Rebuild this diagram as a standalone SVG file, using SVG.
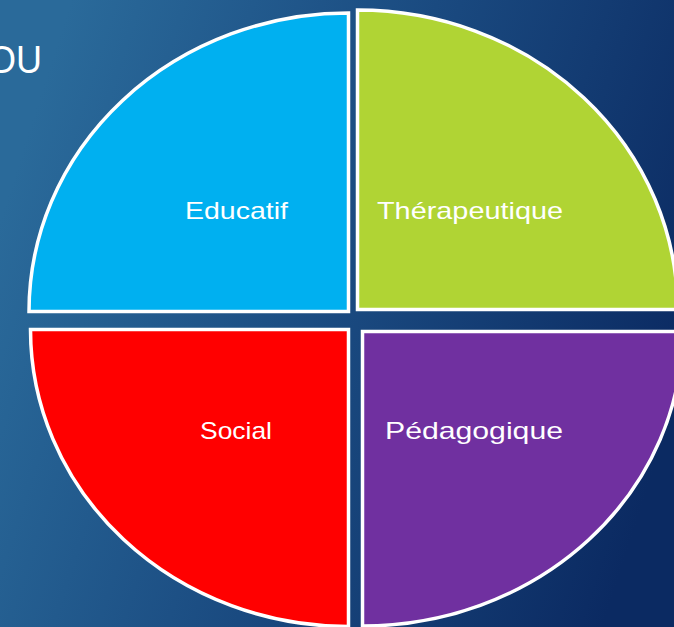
<svg xmlns="http://www.w3.org/2000/svg" width="674" height="627" viewBox="0 0 674 627">
<defs>
<linearGradient id="bg" x1="0" y1="0.35" x2="1" y2="0.65">
<stop offset="0" stop-color="#2a6a9a"/>
<stop offset="0.5" stop-color="#1a4a80"/>
<stop offset="1" stop-color="#0b2a62"/>
</linearGradient>
</defs>
<style>
.q{stroke:#ffffff;stroke-width:3.5;stroke-linejoin:miter}
.t{fill:#ffffff;font-family:"Liberation Sans","DejaVu Sans",sans-serif;font-size:24px}
</style>
<rect x="0" y="0" width="674" height="627" fill="url(#bg)"/>
<text x="-12" y="72.5" fill="#ffffff" font-family="Liberation Sans, sans-serif" font-size="38" textLength="54" lengthAdjust="spacingAndGlyphs">OU</text>
<g id="educatif">
<path class="q" fill="#00b0f0" d="M348.5 311.5 L348.5 13 A319.5 298.5 0 0 0 29 311.5 Z"/>
<text class="t" x="185" y="219" textLength="103" lengthAdjust="spacingAndGlyphs">Educatif</text>
</g>
<g id="therapeutique">
<path class="q" fill="#b0d434" d="M357.5 309.5 L357.5 10 A320 299.5 0 0 1 677.5 309.5 Z"/>
<text class="t" x="377" y="219" textLength="186" lengthAdjust="spacingAndGlyphs">Thérapeutique</text>
</g>
<g id="social">
<path class="q" fill="#ff0000" d="M348.5 329.5 L30.5 329.5 A318 297 0 0 0 348.5 626.5 Z"/>
<text class="t" x="200" y="439" textLength="72" lengthAdjust="spacingAndGlyphs">Social</text>
</g>
<g id="pedagogique">
<path class="q" fill="#7030a0" d="M362.5 331.5 L362.5 626 A320 294.5 0 0 0 682.5 331.5 Z"/>
<text class="t" x="385" y="439" textLength="178" lengthAdjust="spacingAndGlyphs">Pédagogique</text>
</g>
<g id="connectors"/>
</svg>
